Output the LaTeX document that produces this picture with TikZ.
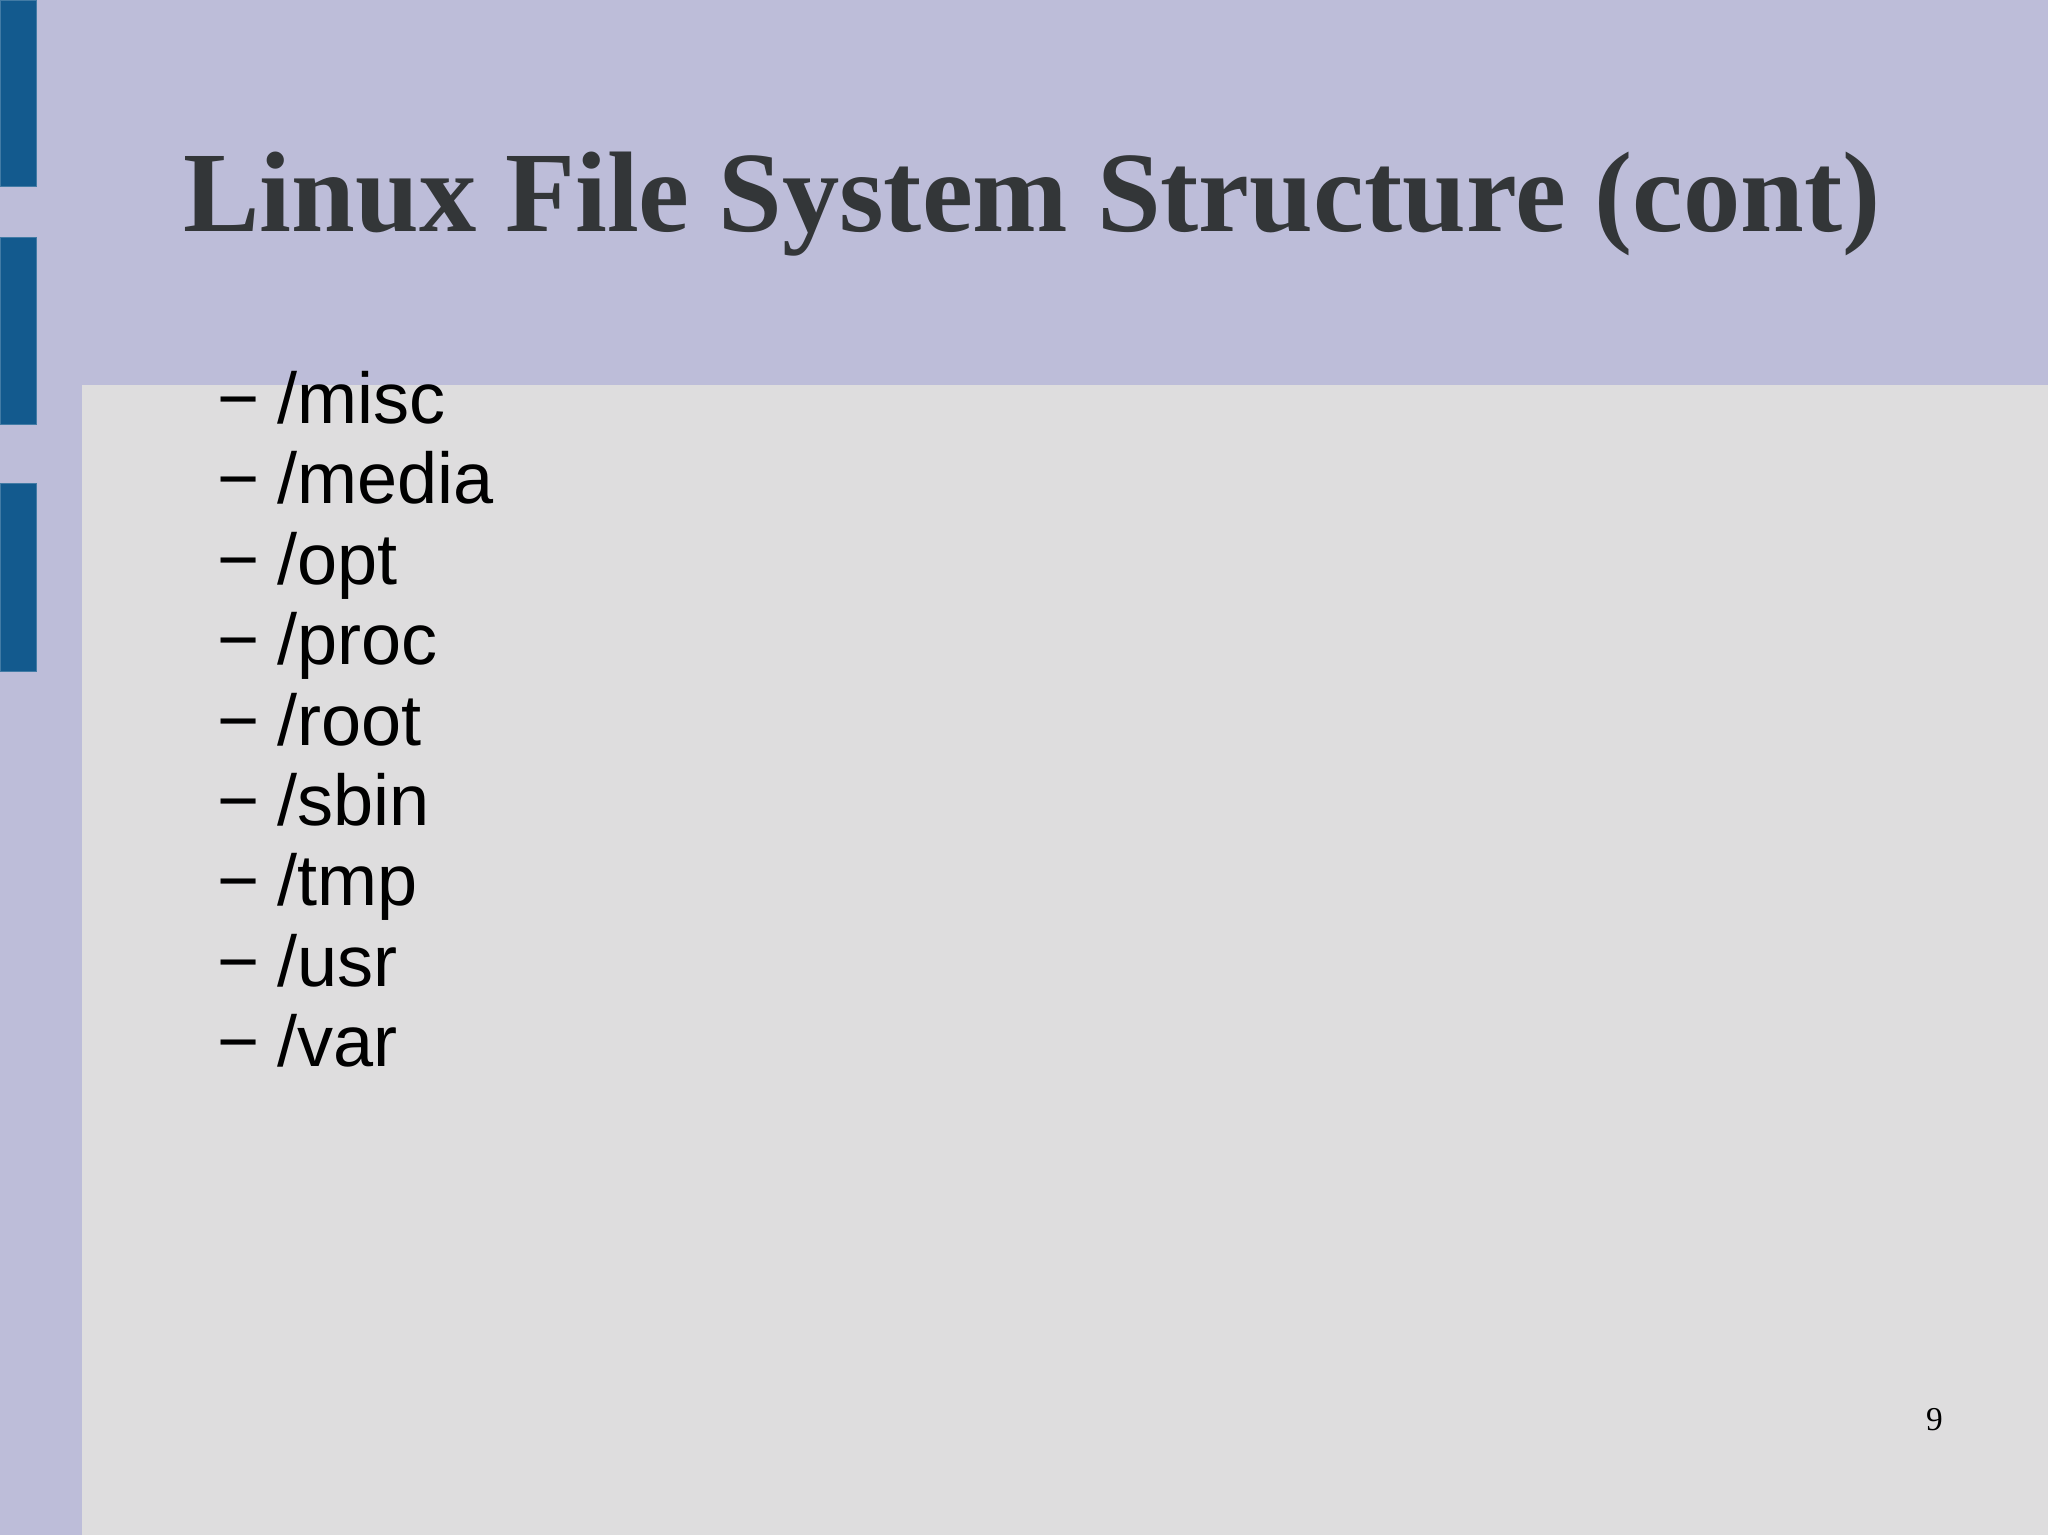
\documentclass[tikz,border=0pt]{standalone}
\usepackage{fontspec}
\setmainfont{Liberation Serif}
\setsansfont{Liberation Sans}
\usetikzlibrary{positioning}
\definecolor{lavender}{HTML}{BDBDD9}
\definecolor{slidegray}{HTML}{DEDDDE}
\definecolor{barblue}{HTML}{135A8E}
\definecolor{inkgray}{HTML}{333638}

\begin{document}
\begin{tikzpicture}[x=0.01306cm,y=-0.01306cm,
  bar/.style={fill=barblue,draw=barblue!80!white,line width=0.4pt},
  item/.style={anchor=base west,inner sep=0pt,font=\sffamily\fontsize{20.5}{24}\selectfont,text=black}]

  \fill[lavender] (0,0) rectangle (1568,1175);
  \useasboundingbox (0,0) rectangle (1568,1175);
  \fill[slidegray] (63,295) rectangle (1568,1175);

  % side bars
  \draw[bar] (0,0) rectangle (28,143);
  \draw[bar] (0,182) rectangle (28,325);
  \draw[bar] (0,370) rectangle (28,514);

  \node[anchor=base west,inner sep=0pt,text=inkgray,
        font=\bfseries\fontsize{32.6}{36}\selectfont] (title) at (140,177)
        {Linux File System Structure (cont)};

  \foreach \name [count=\i from 0] in {misc,media,opt,proc,root,sbin,tmp,usr,var} {
    \node[item] (dash\i) at (166,{324+61.6*\i}) {−};
    \node[item] (dir\i) at (212,{324+61.6*\i}) {/\name};
  }

  \node[anchor=base,inner sep=0pt,font=\fontsize{9.5}{11}\selectfont] (page) at (1481,1095) {9};
\end{tikzpicture}
\end{document}
